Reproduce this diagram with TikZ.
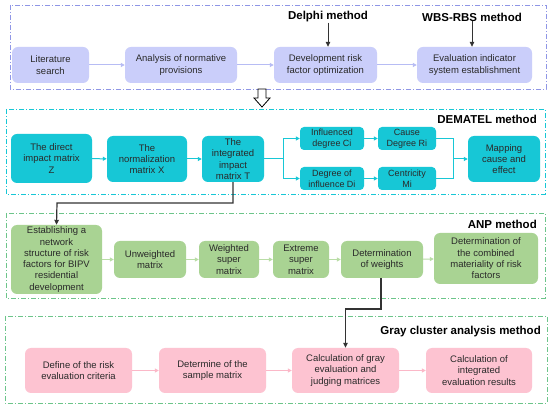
\documentclass[tikz,border=0pt]{standalone}
\usepackage{fontspec}
\setmainfont{Liberation Sans}
\usetikzlibrary{arrows.meta}
\definecolor{lav}{HTML}{CACEFA}
\definecolor{lavline}{HTML}{B7BCF4}
\definecolor{lavframe}{HTML}{8F96E6}
\definecolor{cyanbox}{HTML}{17C7D6}
\definecolor{cyanline}{HTML}{17C7D6}
\definecolor{greenbox}{HTML}{A9D393}
\definecolor{greenline}{HTML}{B9DDA6}
\definecolor{greenframe}{HTML}{6CC58A}
\definecolor{pinkbox}{HTML}{FDC3D1}
\definecolor{pinkline}{HTML}{FBB8C8}
\definecolor{txt}{HTML}{2A2A2A}
\tikzset{
  box/.style={rounded corners=6pt, align=center, inner sep=0.5pt, text=txt,
    font=\fontsize{9.5}{11.3}\selectfont},
  lavbox/.style={box, fill=lav},
  cybox/.style={box, fill=cyanbox},
  smallcy/.style={cybox, rounded corners=4pt, font=\fontsize{9}{11}\selectfont},
  grbox/.style={box, fill=greenbox},
  pkbox/.style={box, fill=pinkbox},
  frame/.style={line width=0.8pt, dash pattern=on 5pt off 2pt on 1pt off 2pt},
  lbl/.style={font=\bfseries\fontsize{11.5}{13}\selectfont, anchor=east, inner sep=0pt},
  lavarr/.style={draw=lavline, line width=1pt, -{Triangle[length=4pt,width=4pt]}},
  cyarr/.style={draw=cyanline, line width=1pt, -{Triangle[length=4pt,width=4pt]}},
  cyln/.style={draw=cyanline, line width=1pt},
  grarr/.style={draw=greenline, line width=1pt, -{Triangle[length=4pt,width=4pt]}},
  pkarr/.style={draw=pinkline, line width=1pt, -{Triangle[length=4pt,width=4pt]}},
  blk/.style={draw=black!80, line width=1.2pt, -{Triangle[length=5pt,width=4.5pt]}},
}
\begin{document}
\begin{tikzpicture}[x=1pt,y=-1pt]
\useasboundingbox (0,0) rectangle (550,406);
\fill[white] (0,0) rectangle (550,406);
% ---------- section 1 ----------
\draw[frame, draw=lavframe] (10,5) rectangle (546,89);
\node[lavbox, minimum width=77pt, minimum height=36pt] (lit) at (50.5,65) {Literature\\search};
\node[lavbox, minimum width=112pt, minimum height=36pt] (ana) at (181,65) {Analysis of normative\\provisions};
\node[lavbox, minimum width=103pt, minimum height=36pt] (dev) at (325.5,65) {Development risk\\factor optimization};
\node[lavbox, minimum width=115pt, minimum height=36pt] (eva) at (474.5,65) {Evaluation indicator\\system establishment};
\node[lbl, anchor=center] (delphi) at (328,17) {Delphi method};
\node[lbl, anchor=center] (wbs) at (472,17) {WBS-RBS method};
\draw[blk, line width=0.8pt] (delphi.south) -- (delphi.south |- dev.north);
\draw[blk, line width=0.8pt] (wbs.south) -- (wbs.south |- eva.north);
\draw[lavarr] (lit) -- (ana);
\draw[lavarr] (ana) -- (dev);
\draw[lavarr] (dev) -- (eva);
% hollow arrow
\draw[fill=white, line width=0.8pt] (258,89) -- (266,89) -- (266,98) -- (270,98) -- (262,107) -- (254,98) -- (258,98) -- cycle;
% ---------- DEMATEL ----------
\draw[frame, draw=cyanline] (6,109) rectangle (545,194);
\node[lbl] (demlbl) at (537,119) {DEMATEL method};
\node[cybox, minimum width=81pt, minimum height=49pt] (dz) at (51.5,158.5) {The direct\\impact matrix\\Z};
\node[cybox, minimum width=80pt, minimum height=46pt] (nx) at (147,159) {The\\normalization\\matrix X};
\node[cybox, minimum width=62pt, minimum height=46pt] (it) at (233,159) {The\\integrated\\impact\\matrix T};
\node[smallcy, minimum width=64pt, minimum height=23pt] (ic) at (332,138.5) {Influenced\\degree Ci};
\node[smallcy, minimum width=58pt, minimum height=23pt] (cr) at (407,138.5) {Cause\\Degree Ri};
\node[smallcy, minimum width=64pt, minimum height=23pt] (di) at (332,178.5) {Degree of\\influence Di};
\node[smallcy, minimum width=58pt, minimum height=23pt] (cm) at (407,178.5) {Centricity\\Mi};
\node[cybox, minimum width=72pt, minimum height=46pt] (mp) at (504,159) {Mapping\\cause and\\effect};
\coordinate (br) at (283,159);
\coordinate (mg) at (453,159);
\draw[cyarr] (dz) -- (nx);
\draw[cyarr] (nx) -- (it);
\draw[cyln] (it.east) -- (br);
\draw[cyarr] (br) |- (ic.west);
\draw[cyarr] (br) |- (di.west);
\draw[cyarr] (ic) -- (cr);
\draw[cyarr] (di) -- (cm);
\draw[cyln] (cr.east) -| (mg);
\draw[cyln] (cm.east) -| (mg);
\draw[cyarr] (mg) -- (mp.west);
% ---------- ANP ----------
\draw[frame, draw=greenframe] (6,213) rectangle (545,298);
\node[lbl] (anplbl) at (537,224) {ANP method};
\node[grbox, minimum width=91pt, minimum height=69pt] (est) at (56.5,259.5) {Establishing a\\network\\structure of risk\\factors for BIPV\\residential\\development};
\node[grbox, minimum width=72pt, minimum height=37pt] (uw) at (150,259.5) {Unweighted\\matrix};
\node[grbox, minimum width=60pt, minimum height=37pt] (wt) at (229,259.5) {Weighted\\super\\matrix};
\node[grbox, minimum width=56pt, minimum height=37pt] (ex) at (301,259.5) {Extreme\\super\\matrix};
\node[grbox, minimum width=82pt, minimum height=37pt] (dw) at (382,259.5) {Determination\\of weights};
\node[grbox, minimum width=104pt, minimum height=51pt] (cb) at (486,258.5) {Determination of\\the combined\\materiality of risk\\factors};
\draw[grarr] (est) -- (uw);
\draw[grarr] (uw) -- (wt);
\draw[grarr] (wt) -- (ex);
\draw[grarr] (ex) -- (dw);
\draw[grarr] (dw) -- (cb);
% ---------- Gray cluster ----------
\draw[frame, draw=greenframe] (5,316) rectangle (547,403);
\node[lbl] (gclbl) at (541,332) {Gray cluster analysis method};
\node[pkbox, minimum width=107pt, minimum height=45pt] (df) at (78.5,370.5) {Define of the risk\\evaluation criteria};
\node[pkbox, minimum width=107pt, minimum height=45pt] (dm) at (212.5,370.5) {Determine of the\\sample matrix};
\node[pkbox, minimum width=107pt, minimum height=45pt] (cg) at (345.5,370.5) {Calculation of gray\\evaluation and\\judging matrices};
\node[pkbox, minimum width=106pt, minimum height=45pt] (ci) at (479,370.5) {Calculation of\\integrated\\evaluation results};
\draw[pkarr] (df) -- (dm);
\draw[pkarr] (dm) -- (cg);
\draw[pkarr] (cg) -- (ci);
% ---------- black connectors ----------
\coordinate (k1) at (234,203);
\coordinate (k2) at (57,203);
\draw[blk] (it.south) -- (it.south |- k1) -- (k2) -- (est.north);
\coordinate (k3) at (381,309);
\coordinate (k4) at (345.5,309);
\draw[blk] (dw.south -| k3) -- (k3) -- (k4) -- (cg.north);
\end{tikzpicture}
\end{document}
